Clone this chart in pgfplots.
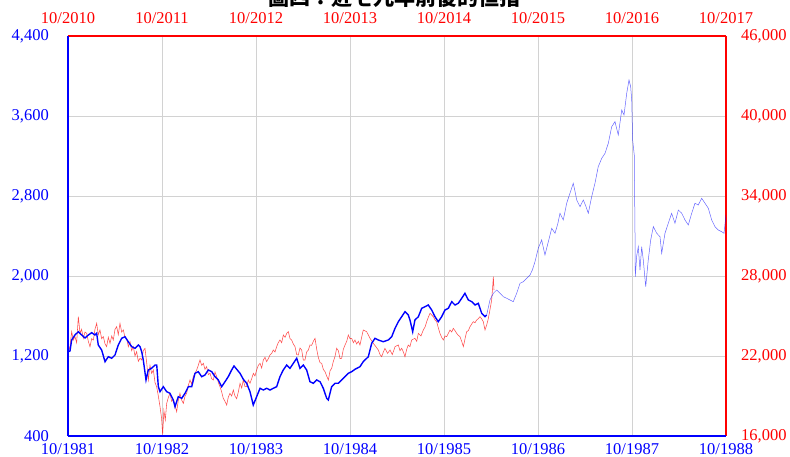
\documentclass[border=0pt]{standalone}
\usepackage{fontspec}
\setmainfont{Liberation Serif}
\newfontfamily\cjk{Noto Sans CJK TC}
\usepackage{pgfplots}
\pgfplotsset{compat=1.18}

\begin{document}
\begin{tikzpicture}
% ---------- red axis (2010-2017, right scale) with grid ----------
\begin{axis}[
  at={(0pt,0pt)}, anchor=south west, scale only axis,
  width=658pt, height=400pt,
  xmin=0, xmax=7, ymin=16000, ymax=46000,
  axis x line*=top, axis y line*=right,
  axis line style={-, red, line width=1.3pt},
  scaled y ticks=false, scaled x ticks=false,
  xtick={0,1,2,3,4,5,6,7},
  xticklabels={10/2010,10/2011,10/2012,10/2013,10/2014,10/2015,10/2016,10/2017},
  ytick={16000,22000,28000,34000,40000,46000},
  yticklabels={{16,000},{22,000},{28,000},{34,000},{40,000},{46,000}},
  grid=major, major grid style={gray!35, line width=0.7pt},
  tick style={draw=none},
  ticklabel style={red, font=\fontsize{16.5}{18}\selectfont, inner sep=0pt},
  xticklabel shift=12pt, yticklabel shift=15pt,
]
\addplot[red, line width=0.55pt, opacity=0.7] coordinates {
(0.003,22325)(0.021,22700)(0.039,23825)(0.056,23200)(0.074,23450)(0.092,23000)
(0.110,24950)(0.128,23700)(0.145,24000)(0.163,23325)(0.181,23800)(0.199,23700)
(0.216,23100)(0.234,22700)(0.252,23300)(0.270,23200)(0.287,24000)(0.305,24450)
(0.322,23600)(0.340,23950)(0.358,23300)(0.376,23450)(0.394,22900)(0.411,22700)
(0.429,23400)(0.447,22950)(0.465,23500)(0.482,23200)(0.500,24000)(0.518,24200)
(0.535,23600)(0.553,24450)(0.571,23800)(0.589,23950)(0.606,23400)(0.624,23325)
(0.642,22700)(0.660,23075)(0.677,22400)(0.695,22700)(0.713,22000)(0.730,22325)
(0.748,21600)(0.766,21825)(0.784,21700)(0.801,22400)(0.819,22575)(0.837,21500)
(0.855,20200)(0.872,21300)(0.890,20700)(0.908,20950)(0.926,20000)(0.943,19700)
(0.961,19000)(0.979,18200)(0.996,17300)(1.007,16100)(1.020,17900)(1.035,17200)
(1.050,18450)(1.068,18900)(1.085,19200)(1.103,18600)(1.121,18700)(1.138,18300)
(1.156,17825)(1.174,18700)(1.191,19200)(1.209,18700)(1.227,18450)(1.245,19000)
(1.262,19200)(1.280,19800)(1.298,20200)(1.315,19900)(1.333,20450)(1.351,20700)
(1.369,20950)(1.386,21300)(1.404,21700)(1.422,21300)(1.440,21450)(1.457,21000)
(1.475,21200)(1.493,20600)(1.511,20700)(1.528,20300)(1.546,20200)(1.564,20800)
(1.582,20450)(1.600,20000)(1.617,19700)(1.635,19300)(1.652,18825)(1.670,18600)
(1.688,18325)(1.705,18900)(1.723,19200)(1.741,19000)(1.759,19450)(1.776,19000)
(1.794,18800)(1.812,19300)(1.830,19950)(1.848,19600)(1.865,20200)(1.883,19700)
(1.901,19700)(1.918,20200)(1.936,19950)(1.954,20300)(1.972,20700)(1.989,20500)
(2.007,20950)(2.025,21300)(2.043,21450)(2.060,21100)(2.078,21700)(2.096,21900)
(2.113,21575)(2.131,21800)(2.149,22075)(2.167,22200)(2.184,22450)(2.202,22300)
(2.220,22700)(2.237,23000)(2.255,23200)(2.273,23000)(2.291,23575)(2.309,23400)
(2.327,23700)(2.344,23825)(2.362,23300)(2.379,23200)(2.397,22900)(2.415,22700)
(2.433,22100)(2.450,22075)(2.468,22600)(2.486,22450)(2.503,21700)(2.521,21700)
(2.539,22300)(2.557,22450)(2.574,22825)(2.592,22800)(2.610,23100)(2.628,23325)
(2.646,22500)(2.663,21900)(2.681,21500)(2.699,21450)(2.716,21000)(2.734,20825)
(2.752,20500)(2.770,20200)(2.788,20900)(2.805,21075)(2.823,21600)(2.840,21950)
(2.858,22575)(2.876,22400)(2.894,21800)(2.911,21825)(2.929,22500)(2.947,22825)
(2.965,23100)(2.982,23575)(3.000,23300)(3.018,23325)(3.036,23000)(3.053,23200)
(3.071,22900)(3.089,23100)(3.106,22825)(3.124,23400)(3.141,23950)(3.177,23825)
(3.213,23325)(3.248,22950)(3.275,22700)(3.301,22450)(3.320,22100)(3.337,21950)
(3.355,22300)(3.372,22575)(3.400,22200)(3.426,22450)(3.450,22100)(3.479,22700)
(3.514,22825)(3.532,22400)(3.550,22575)(3.568,22300)(3.585,21950)(3.603,22500)
(3.620,22825)(3.638,22700)(3.656,23200)(3.691,23325)(3.710,23100)(3.727,23700)
(3.755,23500)(3.780,23950)(3.800,24200)(3.816,24575)(3.833,24900)(3.851,25200)
(3.886,24950)(3.904,24700)(3.922,24575)(3.940,24100)(3.957,23700)(3.975,23400)
(3.993,23200)(4.011,23500)(4.029,23450)(4.046,23700)(4.064,23950)(4.082,23800)
(4.099,24075)(4.117,23900)(4.135,23700)(4.152,23550)(4.170,23450)(4.188,23100)
(4.206,22700)(4.224,23300)(4.241,23825)(4.259,23900)(4.277,24200)(4.295,24400)
(4.312,24575)(4.330,24500)(4.348,24700)(4.365,24800)(4.383,24950)(4.400,24800)
(4.418,24575)(4.436,23950)(4.454,24325)(4.468,24700)(4.482,25200)(4.495,25700)
(4.507,26200)(4.518,27200)(4.525,27950)(4.532,26950)
};
\end{axis}
% ---------- blue axis (1981-1988, left scale) ----------
\begin{axis}[
  at={(0pt,0pt)}, anchor=south west, scale only axis,
  width=658pt, height=400pt,
  xmin=0, xmax=7, ymin=400, ymax=4400,
  axis x line*=bottom, axis y line*=left,
  axis line style={-, blue, line width=1.3pt},
  scaled y ticks=false, scaled x ticks=false,
  xtick={0,1,2,3,4,5,6,7},
  xticklabels={10/1981,10/1982,10/1983,10/1984,10/1985,10/1986,10/1987,10/1988},
  ytick={400,1200,2000,2800,3600,4400},
  yticklabels={400,{1,200},{2,000},{2,800},{3,600},{4,400}},
  tick style={draw=none},
  ticklabel style={blue, font=\fontsize{16.5}{18}\selectfont, inner sep=0pt},
  xticklabel shift=7.5pt, yticklabel shift=19pt,
]
\addplot[blue, line width=0.5pt, opacity=0.6] coordinates {
(4.454,1610)(4.489,1760)(4.525,1827)(4.560,1860)(4.596,1827)(4.631,1793)
(4.667,1777)(4.702,1760)(4.737,1743)(4.773,1827)(4.809,1927)(4.844,1943)
(4.879,1977)(4.915,2010)(4.940,2060)(4.968,2143)(5.003,2277)(5.039,2360)
(5.074,2210)(5.110,2343)(5.146,2477)(5.181,2427)(5.210,2520)(5.234,2627)
(5.269,2560)(5.305,2727)(5.340,2827)(5.375,2927)(5.393,2850)(5.412,2760)
(5.447,2693)(5.482,2760)(5.511,2693)(5.535,2627)(5.571,2793)(5.606,2927)
(5.641,3093)(5.678,3177)(5.713,3227)(5.748,3327)(5.784,3493)(5.819,3543)
(5.854,3410)(5.891,3660)(5.915,3610)(5.944,3827)(5.968,3960)(5.986,3893)
(5.997,3760)(6.007,3360)(6.024,3210)(6.032,2427)(6.035,1993)(6.050,2200)
(6.067,2293)(6.085,2060)(6.103,2293)(6.120,2160)(6.146,1893)(6.173,2160)
(6.199,2360)(6.227,2493)(6.263,2427)(6.298,2393)(6.316,2227)(6.351,2427)
(6.386,2527)(6.422,2627)(6.457,2527)(6.493,2660)(6.529,2627)(6.564,2560)
(6.599,2510)(6.635,2627)(6.670,2727)(6.705,2710)(6.741,2777)(6.777,2727)
(6.812,2677)(6.848,2560)(6.883,2493)(6.918,2460)(6.954,2443)(6.979,2427)
(7.000,2610)
};
\addplot[blue, line width=1.4pt] coordinates {
(0.003,1243)(0.021,1250)(0.039,1360)(0.074,1410)(0.110,1443)(0.146,1410)
(0.181,1380)(0.216,1410)(0.252,1433)(0.287,1410)(0.305,1427)(0.322,1310)
(0.358,1260)(0.394,1143)(0.429,1193)(0.465,1177)(0.500,1210)(0.535,1310)
(0.571,1377)(0.606,1393)(0.641,1343)(0.678,1293)(0.713,1277)(0.748,1310)
(0.766,1293)(0.784,1243)(0.801,1160)(0.830,960)(0.854,1060)(0.890,1077)
(0.926,1110)(0.944,1110)(0.961,893)(0.979,843)(1.014,893)(1.050,843)
(1.085,827)(1.120,760)(1.138,693)(1.173,793)(1.210,777)(1.245,827)
(1.280,893)(1.316,893)(1.351,1027)(1.386,1043)(1.422,993)(1.457,1010)
(1.493,1060)(1.529,1043)(1.564,993)(1.599,960)(1.635,893)(1.670,943)
(1.705,993)(1.741,1060)(1.766,1100)(1.795,1067)(1.830,1027)(1.865,967)
(1.901,927)(1.936,843)(1.971,710)(2.007,793)(2.043,877)(2.078,860)
(2.114,877)(2.149,860)(2.184,877)(2.220,893)(2.255,993)(2.290,1060)
(2.327,1110)(2.362,1077)(2.397,1127)(2.433,1177)(2.468,1077)(2.503,1110)
(2.539,1060)(2.574,943)(2.610,927)(2.646,960)(2.681,943)(2.716,877)
(2.752,777)(2.769,760)(2.805,893)(2.840,927)(2.876,927)(2.912,960)
(2.947,993)(2.982,1027)(3.018,1043)(3.053,1067)(3.106,1093)(3.141,1143)
(3.195,1193)(3.231,1327)(3.266,1377)(3.301,1360)(3.354,1343)(3.407,1360)
(3.444,1393)(3.479,1477)(3.514,1543)(3.550,1593)(3.585,1643)(3.620,1610)
(3.638,1560)(3.667,1443)(3.691,1560)(3.727,1593)(3.763,1677)(3.798,1693)
(3.833,1710)(3.869,1660)(3.904,1593)(3.939,1543)(3.975,1593)(4.011,1660)
(4.046,1677)(4.082,1743)(4.117,1710)(4.152,1727)(4.188,1777)(4.223,1827)
(4.259,1760)(4.295,1743)(4.330,1710)(4.365,1727)(4.401,1627)(4.436,1593)
(4.454,1610)
};
\end{axis}
\node[anchor=base, font=\cjk\bfseries\fontsize{21}{24}\selectfont] at (326pt,430.5pt) {圖四：近七九年前後的恒指};
\pgfresetboundingbox
\path[use as bounding box] (-68pt,-21pt) rectangle (722pt,436pt);
\end{tikzpicture}
\end{document}
